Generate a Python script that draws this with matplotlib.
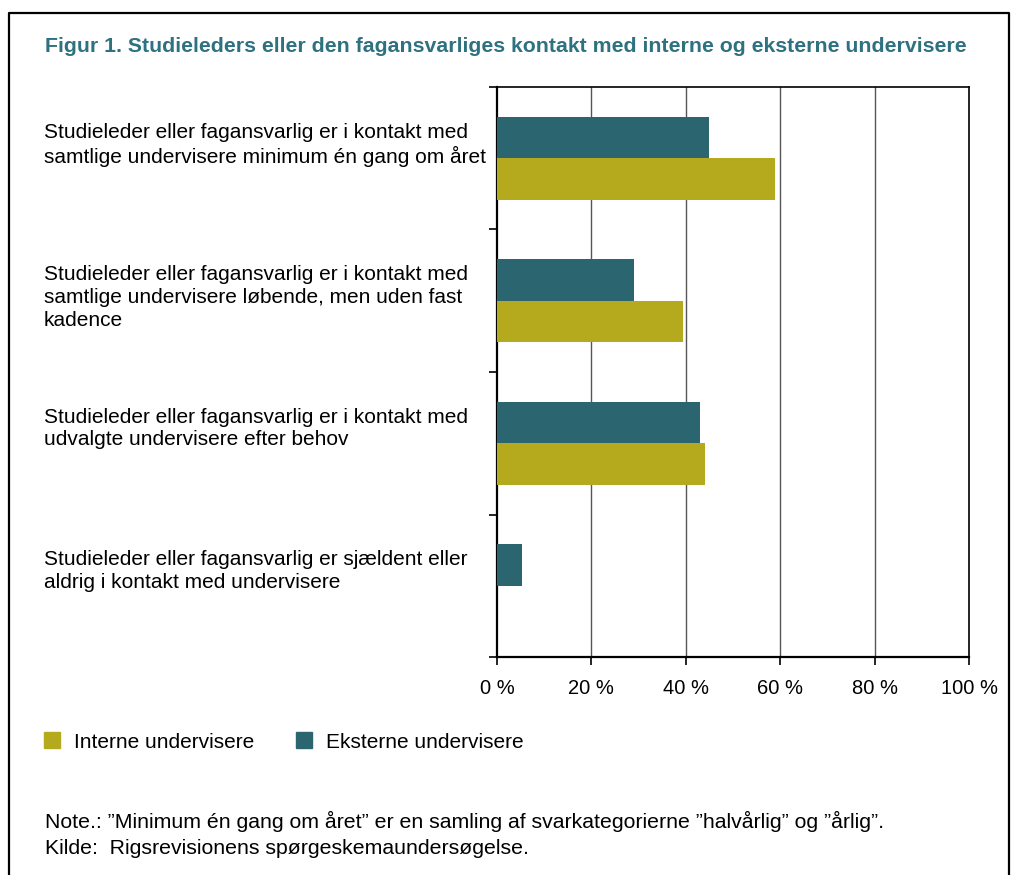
import matplotlib.pyplot as plt
import matplotlib.transforms as mtransforms
from matplotlib.patches import Patch
from matplotlib.lines import Line2D

plt.rcParams['font.family'] = ['Liberation Sans', 'DejaVu Sans']

categories = [
    "Studieleder eller fagansvarlig er i kontakt med\nsamtlige undervisere minimum én gang om året",
    "Studieleder eller fagansvarlig er i kontakt med\nsamtlige undervisere løbende, men uden fast\nkadence",
    "Studieleder eller fagansvarlig er i kontakt med\nudvalgte undervisere efter behov",
    "Studieleder eller fagansvarlig er sjældent eller\naldrig i kontakt med undervisere",
]
eksterne = [45, 29, 43, 5.3]
interne = [59, 39.5, 44, 0]
xticks = [0, 20, 40, 60, 80, 100]
xtick_labels = ["0 %", "20 %", "40 %", "60 %", "80 %", "100 %"]

teal = "#2B6670"
olive = "#B5AA1E"
title_col = "#2E7180"
fs = 15

fig = plt.figure(figsize=(10.13, 8.75), dpi=100)
ax = fig.add_axes([0.4906, 0.2491, 0.466, 0.6515])

ypos = list(range(len(categories)))
h = 0.29
ax.barh([y - 0.145 for y in ypos], eksterne, height=h, color=teal, zorder=3)
ax.barh([y + 0.145 for y in ypos], interne, height=h, color=olive, zorder=3)

ax.set_xlim(0, 100)
ax.set_ylim(3.5, -0.5)
ax.set_xticks(xticks)
ax.set_xticklabels(xtick_labels, fontsize=14.5)
ax.set_yticks([-0.5, 0.5, 1.5, 2.5, 3.5])
ax.set_yticklabels([])
ax.tick_params(axis='y', length=6, width=1.2, direction='out')
ax.tick_params(axis='x', length=6, width=1.2, direction='out', pad=10)
for x in xticks[1:-1]:
    ax.axvline(x, color="#555555", linewidth=1, zorder=1)
for s in ax.spines.values():
    s.set_color("black")
ax.spines['left'].set_linewidth(1.6)
ax.spines['bottom'].set_linewidth(1.6)
ax.spines['top'].set_linewidth(1.2)
ax.spines['right'].set_linewidth(1.2)

# category labels, left aligned in the margin
trans = mtransforms.blended_transform_factory(fig.transFigure, ax.transData)
for i, lab in enumerate(categories):
    ax.text(44 / 1013, i - 0.25, lab, transform=trans,
            ha='left', va='top', fontsize=fs, linespacing=1.25)

fig.text(45 / 1013, 1 - 46 / 875, "Figur 1. Studieleders eller den fagansvarliges kontakt med interne og eksterne undervisere",
         fontsize=15.3, fontweight='bold', color=title_col, ha='left', va='center')

handles = [Patch(color=olive, label="Interne undervisere"),
           Patch(color=teal, label="Eksterne undervisere")]
fig.legend(handles=handles, loc='center left', bbox_to_anchor=(0.035, 1 - 742 / 875), ncol=2,
           frameon=False, fontsize=fs, handlelength=0.77, handleheight=0.8,
           handletextpad=0.67, columnspacing=2.0, borderaxespad=0)

fig.text(45 / 1013, 1 - 821 / 875, "Note.: \u201dMinimum én gang om året\u201d er en samling af svarkategorierne \u201dhalvårlig\u201d og \u201dårlig\u201d.",
         fontsize=15.3, ha='left', va='center')
fig.text(45 / 1013, 1 - 848 / 875, "Kilde:  Rigsrevisionens spørgeskemaundersøgelse.",
         fontsize=15.3, ha='left', va='center')

# frame around the figure (no bottom edge)
fx0, fx1, fy1 = 9 / 1013, 1009 / 1013, 1 - 13 / 875
fig.add_artist(Line2D([fx0, fx0, fx1, fx1], [0, fy1, fy1, 0], transform=fig.transFigure,
                      color="black", linewidth=1.6))

fig.savefig("out.png", dpi=100)
